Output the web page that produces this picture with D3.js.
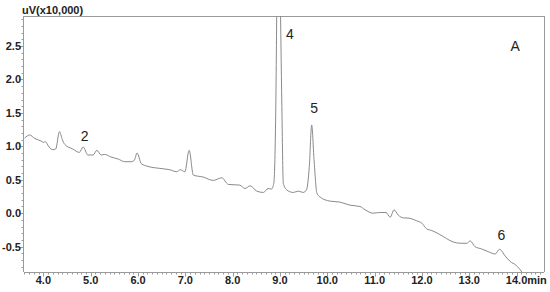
<!DOCTYPE html>
<html><head><meta charset="utf-8">
<script src="https://cdn.jsdelivr.net/npm/d3@7"></script>
<style>
html,body{margin:0;padding:0;background:#fff;}
svg{display:block;font-family:"Liberation Sans",Arial,sans-serif;}
</style></head>
<body>
<svg id="c" width="550" height="292"></svg>
<script>
// retention time (min)
const times = [3.60,3.71,3.81,3.95,4.00,4.04,4.12,4.20,4.26,4.34,4.40,4.45,4.62,4.76,4.84,4.94,5.05,5.13,5.22,5.29,5.43,5.58,5.72,5.86,5.92,5.98,6.07,6.21,6.46,6.67,6.82,6.89,6.99,7.08,7.17,7.38,7.59,7.77,7.91,8.15,8.26,8.37,8.51,8.65,8.75,8.82,8.87,8.91,8.94,8.97,9.00,9.04,9.07,9.14,9.28,9.39,9.49,9.56,9.62,9.67,9.72,9.78,9.85,10.06,10.27,10.48,10.69,10.80,10.97,11.11,11.24,11.33,11.41,11.50,11.61,11.73,11.89,12.00,12.10,12.21,12.38,12.66,12.81,12.95,13.02,13.12,13.26,13.40,13.55,13.64,13.76,13.86,13.99,14.11,14.20];
// signal (uV x10,000)
const signal = [1.12,1.17,1.12,1.08,1.06,1.07,0.99,0.95,0.96,1.22,1.10,1.03,0.96,0.91,0.99,0.87,0.87,0.94,0.87,0.88,0.84,0.81,0.77,0.77,0.79,0.90,0.74,0.70,0.67,0.65,0.62,0.65,0.62,0.94,0.57,0.54,0.49,0.53,0.43,0.42,0.37,0.41,0.33,0.31,0.37,0.36,0.45,1.50,3.60,5.20,3.60,1.60,0.45,0.35,0.31,0.33,0.31,0.35,0.70,1.32,0.80,0.30,0.24,0.18,0.165,0.12,0.10,0.05,0.00,0.01,0.01,-0.06,0.05,-0.03,-0.07,-0.075,-0.115,-0.15,-0.235,-0.26,-0.32,-0.43,-0.45,-0.45,-0.415,-0.50,-0.535,-0.575,-0.61,-0.54,-0.64,-0.72,-0.78,-0.88,-1.00];
const xTicks = [4,5,6,7,8,9,10,11,12,13,14];
const yTicks = [-0.5,0,0.5,1.0,1.5,2.0,2.5];
const peakLabels = ["2","4","5","6"];
const peakAt = [[4.87,1.16],[9.21,2.68],[9.72,1.58],[13.68,-0.33]];

const L=24,R=544,T=16,B=272;
const svg=d3.select("#c");
const x=d3.scaleLinear().domain([3.59,14.58]).range([L,R]);
const y=d3.scaleLinear().domain([-0.88,2.95]).range([B,T]);
const gray="#9a9a9a", txt="#222";

svg.append("clipPath").attr("id","clip").append("rect").attr("x",L).attr("y",T).attr("width",R-L).attr("height",B-T);

// frame top/right
svg.append("line").attr("x1",L).attr("x2",R).attr("y1",T+0.5).attr("y2",T+0.5).attr("stroke",gray);
svg.append("line").attr("x1",R+0.5).attr("x2",R+0.5).attr("y1",T).attr("y2",B).attr("stroke",gray);

// minor ticks
const xMinor=d3.range(36,146).map(d=>d/10).filter(d=>d>=3.6&&d<=14.5);
const yMinor=d3.range(-8,30).map(d=>d/10);
const gx=svg.append("g").attr("transform",`translate(0,${B+0.5})`);
gx.append("line").attr("x1",L).attr("x2",R).attr("stroke",gray);
gx.selectAll("line.m").data(xMinor).join("line").attr("class","m")
  .attr("x1",d=>Math.round(x(d))+0.5).attr("x2",d=>Math.round(x(d))+0.5).attr("y1",0).attr("y2",2).attr("stroke",gray);
gx.selectAll("line.M").data(xTicks).join("line").attr("class","M")
  .attr("x1",d=>Math.round(x(d))+0.5).attr("x2",d=>Math.round(x(d))+0.5).attr("y1",0).attr("y2",4).attr("stroke",gray);
const gy=svg.append("g").attr("transform",`translate(${L-0.5},0)`);
gy.append("line").attr("y1",T).attr("y2",B).attr("stroke",gray);
gy.selectAll("line.m").data(yMinor).join("line").attr("class","m")
  .attr("y1",d=>Math.round(y(d))+0.5).attr("y2",d=>Math.round(y(d))+0.5).attr("x1",0).attr("x2",-2).attr("stroke",gray);
gy.selectAll("line.M").data(yTicks).join("line").attr("class","M")
  .attr("y1",d=>Math.round(y(d))+0.5).attr("y2",d=>Math.round(y(d))+0.5).attr("x1",0).attr("x2",-4).attr("stroke",gray);

// tick labels
svg.append("g").selectAll("text").data(yTicks).join("text")
  .attr("x",L-3).attr("y",d=>y(d)).attr("dy","0.36em").attr("text-anchor","end")
  .attr("font-size",11).attr("font-weight","bold").attr("fill",txt).text(d=>d.toFixed(1));
const xl=svg.append("g").selectAll("text").data(xTicks).join("text")
  .attr("x",d=>x(d)).attr("y",284).attr("text-anchor","middle")
  .attr("font-size",11).attr("font-weight","bold").attr("fill",txt).text(d=>d.toFixed(1));
xl.filter(d=>d===14).each(function(){
  const w=this.getComputedTextLength();
  d3.select(this).attr("text-anchor","start").attr("x",x(14)-w/2).text("14.0min");
});

svg.append("text").attr("x",22).attr("y",14).attr("font-size",11).attr("font-weight","bold").attr("fill",txt).text("uV(x10,000)");

// trace
const data=times.map((t,i)=>[t,signal[i]]);
svg.append("path").datum(data).attr("clip-path","url(#clip)")
  .attr("d",d3.line().x(d=>x(d[0])).y(d=>y(d[1])).curve(d3.curveMonotoneX))
  .attr("fill","none").attr("stroke","#8a8a8a").attr("stroke-width",1);

// peak labels
svg.append("g").selectAll("text").data(peakLabels).join("text")
  .attr("x",(d,i)=>x(peakAt[i][0])).attr("y",(d,i)=>y(peakAt[i][1])).attr("dy","0.36em")
  .attr("text-anchor","middle").attr("font-size",14).attr("fill",txt).text(d=>d);
svg.append("text").attr("x",x(13.97)).attr("y",y(2.5)).attr("dy","0.36em").attr("text-anchor","middle").attr("font-size",14).attr("fill",txt).text("A");
</script>
</body></html>
